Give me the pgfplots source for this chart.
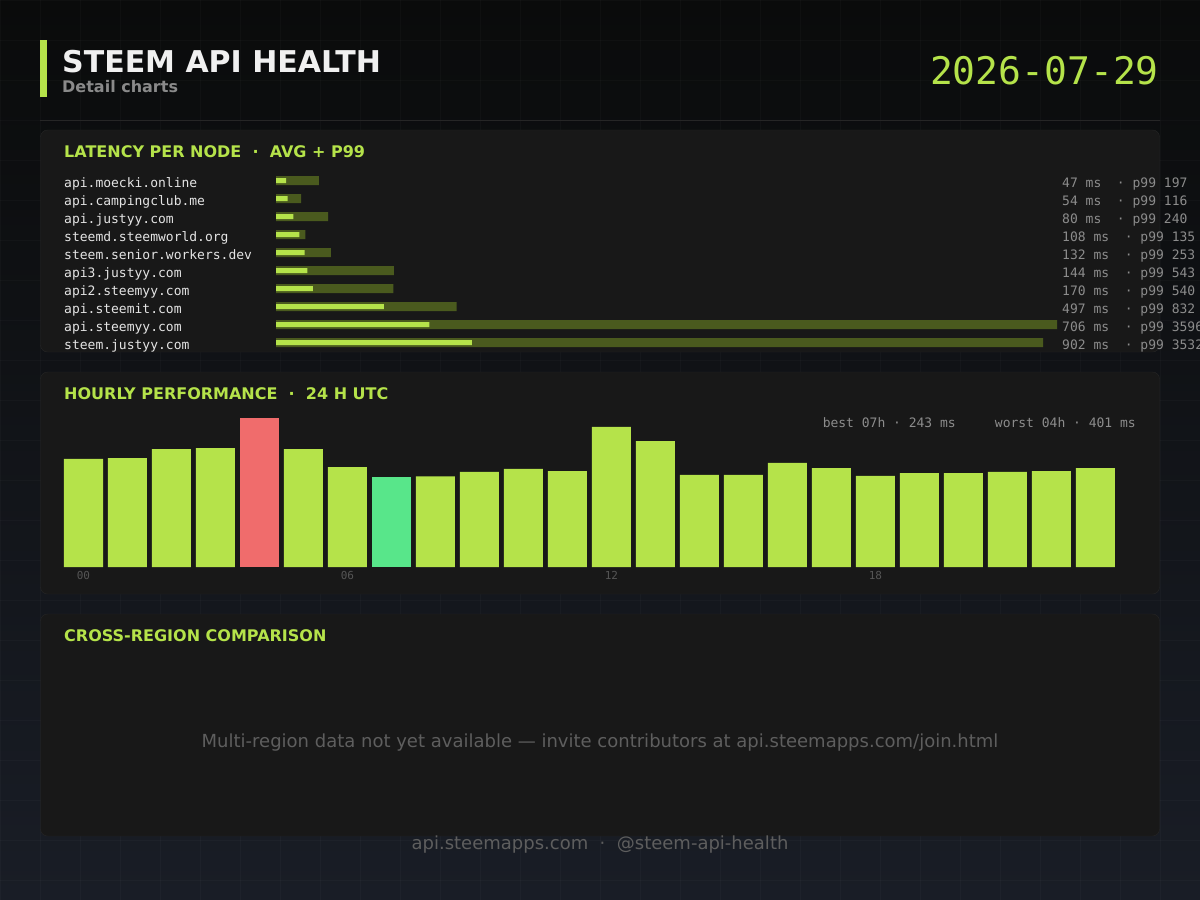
\documentclass[border=0pt]{standalone}
\usepackage{fontspec}
\setmainfont{DejaVu Sans}
\setmonofont{DejaVu Sans Mono}
\usepackage{pgfplots}
\pgfplotsset{compat=1.18}

\definecolor{accent}{HTML}{B5E34A}
\definecolor{olivebar}{HTML}{4A5A1E}
\definecolor{worstc}{HTML}{F06C6C}
\definecolor{bestc}{HTML}{58E68A}
\definecolor{bgtop}{HTML}{0A0B0B}
\definecolor{bgbot}{HTML}{191D26}
\definecolor{panelc}{HTML}{181818}
\definecolor{panelline}{HTML}{262626}
\definecolor{titlec}{HTML}{F0F0F0}
\definecolor{subc}{HTML}{8A8A8A}
\definecolor{namec}{HTML}{E4E4E4}
\definecolor{valc}{HTML}{8C8C8C}
\definecolor{hourc}{HTML}{555555}
\definecolor{mutec}{HTML}{5E5E5E}

\newcommand\fs[1]{\fontsize{#1}{#1}\selectfont}

% latency per node: avg and p99 in ms
\pgfplotstableread{
row avg p99
0   47  197
1   54  116
2   80  240
3   108 135
4   132 253
5   144 543
6   170 540
7   497 832
8   706 3596
9   902 3532
}\latency

\begin{document}
\begin{tikzpicture}[x=1pt,y=1pt]
\path[use as bounding box] (0,0) rectangle (1200,-900);
\clip (0,0) rectangle (1200,-900);
\shade[top color=bgtop, bottom color=bgbot] (0,0) rectangle (1200,-900);
\foreach \x in {0,40,...,1200} \draw[white, opacity=0.025] (\x,0) -- (\x,-900);
\foreach \y in {0,-40,...,-900} \draw[white, opacity=0.025] (0,\y) -- (1200,\y);

% header
\fill[accent] (40,-40) rectangle (46.5,-97);
\node[anchor=base west, inner sep=0, text=titlec] at (62,-72) {\fs{30}\bfseries STEEM API HEALTH};
\node[anchor=base west, inner sep=0, text=subc] at (62,-92.7) {\fs{16}\bfseries Detail charts};
\node[anchor=base east, inner sep=0, text=accent] at (1159,-84) {\fs{38}\ttfamily 2026-07-29};
\draw[panelline, line width=1.2pt] (40,-120.5) -- (1160,-120.5);

% panels
\foreach \t in {130,372,614}
  \draw[panelline, fill=panelc, rounded corners=7pt] (40.5,-\t) rectangle (1159.5,-\t-222);

\foreach \t/\s in {157.5/{LATENCY PER NODE~~·~~AVG + P99},
                   399.5/{HOURLY PERFORMANCE~~·~~24 H UTC},
                   641.5/{CROSS-REGION COMPARISON}}
  \node[anchor=base west, inner sep=0, text=accent] at (64,-\t) {\fs{16}\bfseries \s};

% latency rows
\foreach \i/\n/\v in {0/api.moecki.online/47~ms~~·~p99~197,
                      1/api.campingclub.me/54~ms~~·~p99~116,
                      2/api.justyy.com/80~ms~~·~p99~240,
                      3/steemd.steemworld.org/108~ms~~·~p99~135,
                      4/steem.senior.workers.dev/132~ms~~·~p99~253,
                      5/api3.justyy.com/144~ms~~·~p99~543,
                      6/api2.steemyy.com/170~ms~~·~p99~540,
                      7/api.steemit.com/497~ms~~·~p99~832,
                      8/api.steemyy.com/706~ms~~·~p99~3596,
                      9/steem.justyy.com/902~ms~~·~p99~3532} {
  \node[anchor=base west, inner sep=0, text=namec] at (64,-187-18*\i) {\fs{13}\ttfamily \n};
  \node[anchor=base west, inner sep=0, text=valc] at (1062,-187-18*\i) {\fs{13}\ttfamily \v};
}

\coordinate (latNW) at (276,-171.5);
\coordinate (hourSW) at (61.5,-567);

\begin{axis}[at={(latNW)}, anchor=north west, scale only axis,
  width=781pt, height=180pt, xmin=0, xmax=3596, ymin=-0.5, ymax=9.5,
  y dir=reverse, hide axis, clip=false,
  xbar, bar shift=0pt]
\addplot[xbar, bar shift=0pt, bar width=9pt, fill=olivebar, draw=none] table[x=p99, y=row] {\latency};
\addplot[xbar, bar shift=0pt, bar width=5pt, fill=accent, draw=none] table[x=avg, y=row] {\latency};
\end{axis}

% hourly performance
\node[anchor=base east, inner sep=0, text=valc] at (1136,-427) {\fs{13}\ttfamily worst 04h · 401 ms};
\node[anchor=base east, inner sep=0, text=valc] at (956,-427) {\fs{13}\ttfamily best 07h · 243 ms};

\begin{axis}[at={(hourSW)}, anchor=south west, scale only axis,
  width=1056pt, height=149pt, xmin=-0.5, xmax=23.5, ymin=0, ymax=401,
  ybar, bar shift=0pt, bar width=39pt, clip=false,
  axis line style={draw=none}, major tick length=0pt,
  ytick=\empty, xtick={0,6,12,18}, xticklabels={00,06,12,18},
  xticklabel style={font=\fs{11}\ttfamily, text=hourc, inner sep=4pt}]
\addplot[bar shift=0pt, fill=accent, draw=none] coordinates {
  (0,291) (1,293) (2,317) (3,320) (5,317) (6,269) (8,244) (9,256)
  (10,264) (11,258) (12,377) (13,339) (14,248) (15,248) (16,280)
  (17,266) (18,245) (19,253) (20,253) (21,256) (22,258) (23,266)};
\addplot[bar shift=0pt, fill=worstc, draw=none] coordinates {(4,401)};
\addplot[bar shift=0pt, fill=bestc, draw=none] coordinates {(7,243)};
\end{axis}

% cross-region and footer
\node[anchor=base, inner sep=0, text=mutec] at (600,-747) {\fs{18}Multi-region data not yet available — invite contributors at api.steemapps.com/join.html};
\node[anchor=base, inner sep=0, text=mutec] at (600,-849) {\fs{18}api.steemapps.com~~·~~@steem-api-health};
\end{tikzpicture}
\end{document}
